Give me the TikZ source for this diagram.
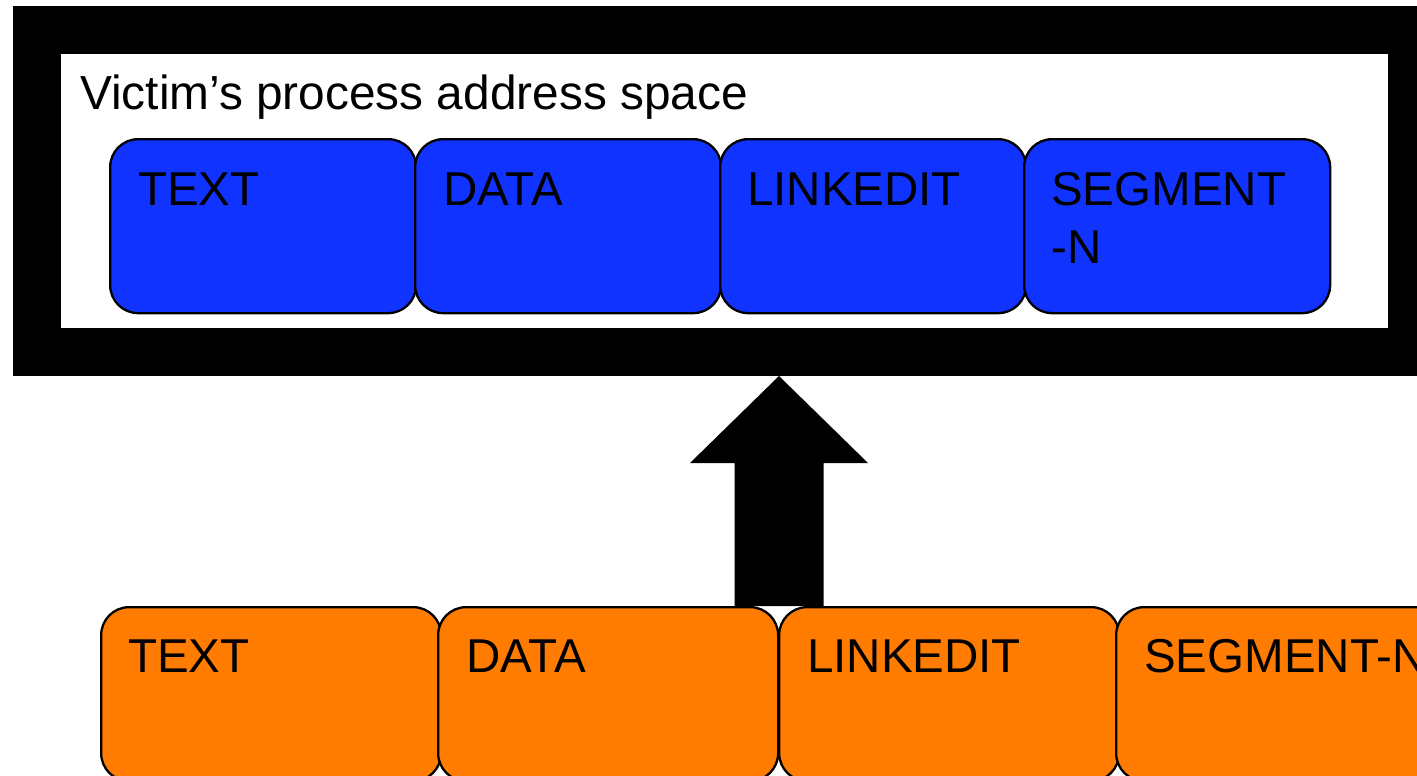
\documentclass[tikz,border=0pt]{standalone}
\usepackage{fontspec}
\setmainfont{Liberation Sans}
\usetikzlibrary{calc}
\definecolor{segblue}{RGB}{16,51,255}
\definecolor{segorange}{RGB}{255,124,0}
\begin{document}
\begin{tikzpicture}[x=1pt,y=-1pt,
  seg/.style={draw=black, line width=2.3pt, rounded corners=28pt, minimum height=174pt, inner sep=0pt, anchor=north west},
  bluebox/.style={seg, fill=segblue, minimum width=306pt},
  orangebox/.style={seg, fill=segorange, minimum width=340pt},
  plate/.style={inner sep=0pt, anchor=north west},
  lbl/.style={anchor=base west, inner sep=0pt, font=\fontsize{47.5}{58}\selectfont},
  lbltwo/.style={anchor=north west, inner sep=0pt, align=left, font=\fontsize{47.5}{58}\selectfont},
]
\useasboundingbox (0,0) rectangle (1417,776);
\clip (0,0) rectangle (1417,776);
% frame
\node[plate, fill=black, minimum width=1420pt, minimum height=370pt] (frame) at (13,6) {};
\node[plate, fill=white, minimum width=1327pt, minimum height=274pt] (space) at (61,54) {};
\node[lbl, font=\fontsize{47.8}{58}\selectfont] (title) at (80,110) {Victim’s process address space};
% blue segments
\node[bluebox] (bText) at (109,138) {};
\node[bluebox] (bData) at (414,138) {};
\node[bluebox] (bLink) at (719,138) {};
\node[bluebox] (bSeg) at (1023,138) {};
\node[lbl] (bTextL) at ($(bText.north west)+(29,67)$) {TEXT};
\node[lbl] (bDataL) at ($(bData.north west)+(29,67)$) {DATA};
\node[lbl] (bLinkL) at ($(bLink.north west)+(28,67)$) {LINKEDIT};
\node[lbltwo] (bSegL) at ($(bLinkL.north -| bSeg.west)+(28,0)$) {SEGMENT\\-N};
% arrow
\coordinate (abase) at (779,606);
\coordinate (atip) at (779,376);
\fill[black] ($(abase)+(-44.5,0)$) -- ($(atip)+(-44.5,87)$) -- ($(atip)+(-89,87)$) -- (atip)
  -- ($(atip)+(89,87)$) -- ($(atip)+(44.5,87)$) -- ($(abase)+(44.5,0)$) -- cycle;
% orange segments
\node[orangebox] (oText) at (100,606) {};
\node[orangebox] (oData) at (437,606) {};
\node[orangebox] (oLink) at (778,606) {};
\node[orangebox] (oSeg) at (1115,606) {};
\node[lbl] (oTextL) at ($(oText.north west)+(28,66)$) {TEXT};
\node[lbl] (oDataL) at ($(oData.north west)+(29,66)$) {DATA};
\node[lbl] (oLinkL) at ($(oLink.north west)+(29,66)$) {LINKEDIT};
\node[lbl] (oSegL) at ($(oSeg.north west)+(29,66)$) {SEGMENT-N};
\end{tikzpicture}
\end{document}
